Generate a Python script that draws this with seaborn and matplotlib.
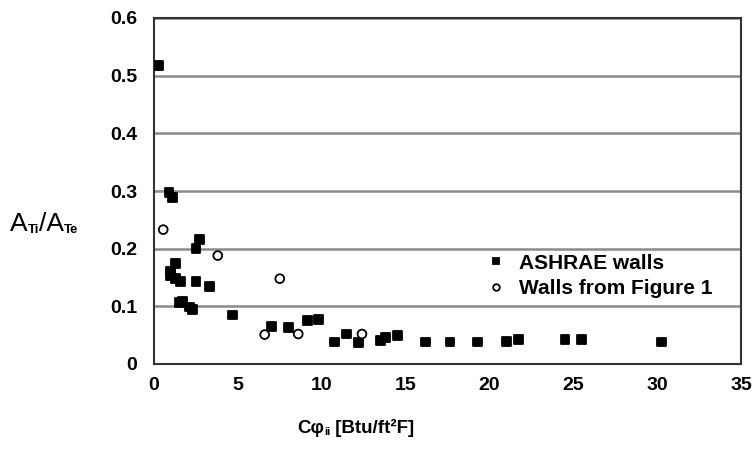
import matplotlib
matplotlib.use("Agg")
import matplotlib.pyplot as plt
import seaborn as sns
import pandas as pd

# ---- data ----
ashrae_x = [0.3, 0.9, 1.1, 2.7, 2.5, 1.3, 1.0, 1.0, 1.3, 1.6, 2.5, 3.3,
            1.5, 1.7, 2.1, 2.3, 4.7, 7.0, 8.0, 9.15, 9.8, 10.75, 11.5, 12.2,
            13.5, 13.8, 14.5, 16.2, 17.65, 19.3, 21.0, 21.75, 24.5, 25.5, 30.25]
ashrae_y = [0.517, 0.297, 0.289, 0.216, 0.200, 0.174, 0.160, 0.153, 0.148, 0.143, 0.143, 0.134,
            0.106, 0.108, 0.099, 0.094, 0.085, 0.065, 0.063, 0.075, 0.077, 0.038, 0.052, 0.037,
            0.041, 0.046, 0.050, 0.038, 0.038, 0.038, 0.039, 0.043, 0.043, 0.043, 0.038]
fig1_x = [0.55, 3.8, 7.5, 6.6, 8.6, 12.4]
fig1_y = [0.233, 0.188, 0.148, 0.051, 0.052, 0.052]
series_names = ["ASHRAE walls", "Walls from Figure 1"]
x_ticks = [0, 5, 10, 15, 20, 25, 30, 35]
y_ticks = [0, 0.1, 0.2, 0.3, 0.4, 0.5, 0.6]

df = pd.DataFrame({
    "x": ashrae_x + fig1_x,
    "y": ashrae_y + fig1_y,
    "series": [series_names[0]] * len(ashrae_x) + [series_names[1]] * len(fig1_x),
})

sns.set_style("white")
plt.rcParams["font.family"] = ["Liberation Sans", "DejaVu Sans"]
plt.rcParams["text.color"] = "black"
plt.rcParams["xtick.color"] = "black"
plt.rcParams["ytick.color"] = "black"

fig = plt.figure(figsize=(7.52, 4.54), dpi=100)
ax = fig.add_axes([154 / 752, 1 - 364 / 454, 587 / 752, 346 / 454])

sns.scatterplot(data=df, x="x", y="y", hue="series", style="series",
                markers={series_names[0]: "s", series_names[1]: "o"},
                palette={series_names[0]: "black", series_names[1]: "white"},
                s=40, edgecolor="black", linewidth=1.3, ax=ax, zorder=3)

ax.set_xlim(0, 35)
ax.set_ylim(0, 0.6)
ax.set_xticks(x_ticks)
ax.set_yticks(y_ticks)
ax.set_xticklabels([str(t) for t in x_ticks], fontsize=14, fontweight="bold")
ax.set_yticklabels([f"{t:g}" for t in y_ticks], fontsize=14, fontweight="bold")
ax.tick_params(axis="x", length=0, pad=9)
ax.tick_params(axis="y", length=0, pad=12)
ax.yaxis.grid(True, color="#8a8a8a", linewidth=1.8)
ax.set_axisbelow(True)
for sp in ax.spines.values():
    sp.set_color("#333333")
    sp.set_linewidth(1.5)
ax.set_xlabel("")
ax.set_ylabel("")

# y label: A_Ti / A_Te, built from chained text pieces
t1 = fig.text(10 / 752, 1 - 231 / 454, "A", fontsize=19, va="baseline", ha="left")
t2 = ax.annotate("Ti", xy=(1, 0), xycoords=t1, va="bottom", ha="left",
                 fontsize=9.5, fontweight="bold", annotation_clip=False)
t3 = ax.annotate("/A", xy=(1, 0), xycoords=t2, va="bottom", ha="left",
                 fontsize=19, annotation_clip=False)
t4 = ax.annotate("Te", xy=(1, 0), xycoords=t3, va="bottom", ha="left",
                 fontsize=9.5, fontweight="bold", annotation_clip=False)

# x label: Cφ_ii [Btu/ft²F]
x1 = fig.text(297 / 752, 1 - 433 / 454, "Cφ", fontsize=13.5, fontweight="bold",
              va="baseline", ha="left")
x2 = ax.annotate("ii", xy=(1, 0), xycoords=x1, va="bottom", ha="left",
                 fontsize=8, fontweight="bold", annotation_clip=False)
x3 = ax.annotate(" [Btu/ft²F]", xy=(1, 0), xycoords=x2, va="bottom", ha="left",
                 fontsize=13.5, fontweight="bold", annotation_clip=False)

leg = ax.legend(loc="center left", bbox_to_anchor=(0.515, 0.255), frameon=False,
                prop={"size": 15, "weight": "bold"}, handletextpad=0.1,
                labelspacing=0.3, markerscale=0.75)

fig.savefig("out.png", dpi=100)
